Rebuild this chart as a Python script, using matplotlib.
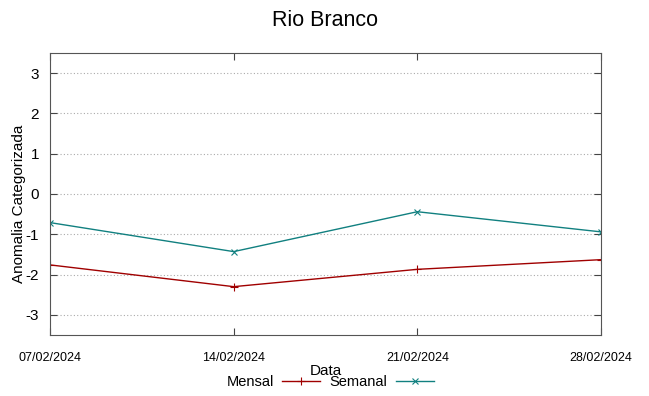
import numpy as np
import matplotlib.pyplot as plt
import matplotlib.dates as mdates

# ----------------------------
# Data
# ----------------------------
datas = np.array(['2024-02-07', '2024-02-14', '2024-02-21', '2024-02-28'], dtype='datetime64[D]')
mensal = [-1.76, -2.30, -1.87, -1.63]
semanal = [-0.71, -1.43, -0.44, -0.94]
yticks = [-3, -2, -1, 0, 1, 2, 3]

# ----------------------------
# Plot
# ----------------------------
plt.rcParams['font.family'] = ['Liberation Sans', 'DejaVu Sans']
plt.rcParams['axes.unicode_minus'] = False

fig = plt.figure(figsize=(6.49, 3.96), dpi=100)
ax = fig.add_axes([50 / 649, 1 - 335 / 396, 551 / 649, 282 / 396])

ax.plot(datas, mensal, color='#a00000', lw=1, marker='+', ms=6, mew=0.8, label='Mensal')
ax.plot(datas, semanal, color='#118080', lw=1, marker='x', ms=5, mew=0.8, label='Semanal')

ax.set_xlim(datas[0], datas[-1])
ax.set_ylim(-3.5, 3.5)
ax.set_yticks(yticks)
ax.set_xticks(datas)
ax.xaxis.set_major_formatter(mdates.DateFormatter('%d/%m/%Y'))

ax.grid(axis='y', color='#aaaaaa', ls=(0, (1, 2)), lw=0.8)
ax.tick_params(direction='in', top=True, right=True, length=5, color='#444444')
ax.tick_params(axis='y', labelsize=11, pad=8)
ax.tick_params(axis='x', pad=12)
for lbl in ax.get_xticklabels():
    lbl.set_fontsize(9)
for s in ax.spines.values():
    s.set_color('#555555')

ax.set_ylabel('Anomalia Categorizada', fontsize=11)
ax.yaxis.set_label_coords(-0.044, 0.465)
ax.set_xlabel('Data', fontsize=11, labelpad=0)
fig.suptitle('Rio Branco', fontsize=15.5, y=0.975)

fig.legend(*ax.get_legend_handles_labels(), ncol=2, markerfirst=False, frameon=False,
           loc='center', bbox_to_anchor=(330 / 649, 1 - 382 / 396), fontsize=10.5,
           handlelength=2.6, handletextpad=0.6, columnspacing=0.6)

fig.savefig('out.png', dpi=100)
